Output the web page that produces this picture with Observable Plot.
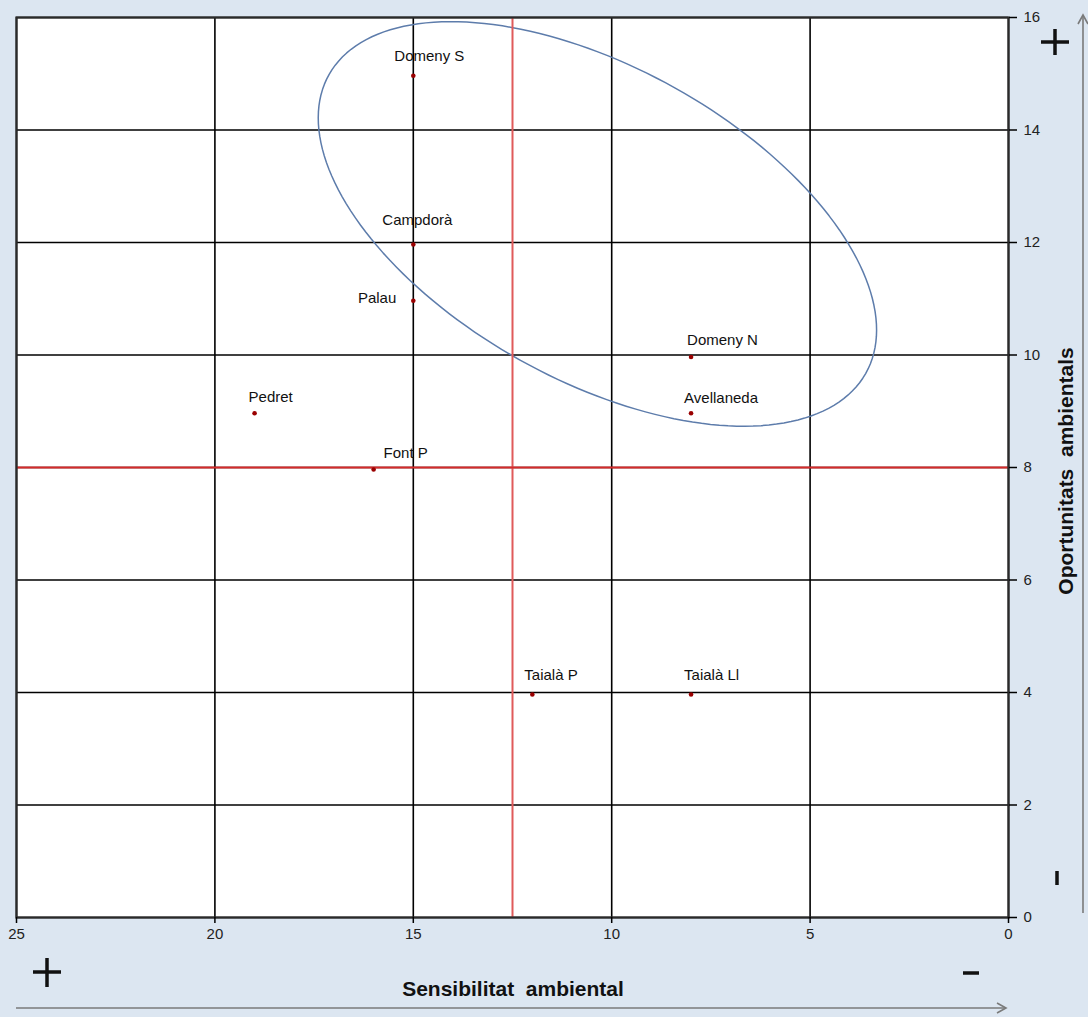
<!DOCTYPE html>
<html><head><meta charset="utf-8">
<script src="https://cdn.jsdelivr.net/npm/d3@7"></script>
<script src="https://cdn.jsdelivr.net/npm/@observablehq/plot@0.6"></script>
<style>
html,body{margin:0;padding:0;background:#dce6f1;}
#wrap{position:relative;width:1088px;height:1017px;overflow:hidden;background:#dce6f1;}
#wrap svg{position:absolute;left:0;top:0;}
</style></head><body><div id="wrap"></div>
<script>
// ---- data ----
const sites = ["Domeny S","Campdorà","Palau","Domeny N","Avellaneda","Pedret","Font P","Taialà P","Taialà Ll"];
const sensibilitat = [15,15,15,8,8,19,16,12,8];
const oportunitats = [15,12,11,10,9,9,8,4,4];
const xTicks = [25,20,15,10,5,0];
const yTicks = [0,2,4,6,8,10,12,14,16];
const thresholdX = [12.5];
const thresholdY = [8];
const ellipseCenter = [10.36, 12.33];
const ellipseAxisA = [-6.76, -2.66];
const ellipseAxisB = [1.95, -2.42];
const xTitle = "Sensibilitat  ambiental";
const yTitle = "Oportunitats  ambientals";

// label placement (styling, not data)
const labelPos = {
  "Domeny S":[-19,-18,"start"], "Campdorà":[-31,-22,"start"], "Palau":[-17,-1,"end"],
  "Domeny N":[-4,-15,"start"], "Avellaneda":[-7,-13,"start"], "Pedret":[-6,-14,"start"],
  "Font P":[10,-14,"start"], "Taialà P":[-8,-17,"start"], "Taialà Ll":[-7,-17,"start"]
};

const points = sites.map((s,i)=>({site:s, x:sensibilitat[i], y:oportunitats[i]}));
const ellipsePts = d3.range(0,360,2).map(d=>{
  const t=d*Math.PI/180;
  return {x: ellipseCenter[0]+ellipseAxisA[0]*Math.cos(t)+ellipseAxisB[0]*Math.sin(t),
          y: ellipseCenter[1]+ellipseAxisA[1]*Math.cos(t)+ellipseAxisB[1]*Math.sin(t)};
});

const font = "'Liberation Sans', Arial, sans-serif";
const labelMarks = points.map(p=>{
  const [dx,dy,anchor]=labelPos[p.site];
  return Plot.text([p],{x:"x",y:"y",text:"site",dx,dy,textAnchor:anchor,lineAnchor:"middle",
    fontSize:15,fill:"#111",letterSpacing:"-0.2px"});
});

const chart = Plot.plot({
  width:1088, height:1017,
  marginLeft:16, marginRight:80, marginTop:17, marginBottom:100,
  style:{background:"transparent", fontFamily:font, fontSize:"15px", color:"#222", overflow:"visible"},
  x:{domain:[25,0]},
  y:{domain:[0,16]},
  marks:[
    Plot.frame({fill:"white"}),
    Plot.gridX(xTicks,{stroke:"#000",strokeOpacity:1,strokeWidth:1.6}),
    Plot.gridY(yTicks,{stroke:"#000",strokeOpacity:1,strokeWidth:1.6}),
    Plot.line(ellipsePts,{x:"x",y:"y",curve:"linear-closed",stroke:"#5d7cab",strokeWidth:1.5}),
    Plot.ruleX(thresholdX,{stroke:"#e05a5a",strokeWidth:2}),
    Plot.ruleY(thresholdY,{stroke:"#d62a2a",strokeWidth:2.2}),
    Plot.frame({stroke:"#2a2a2a",strokeWidth:2.2}),
    Plot.axisX(xTicks,{anchor:"bottom",tickSize:6,tickPadding:5,label:null,tickFormat:d=>String(d),stroke:"#000",strokeWidth:1.5,fill:"#222"}),
    Plot.axisY(yTicks,{anchor:"right",tickSize:8,tickPadding:7,label:null,tickFormat:d=>String(d),stroke:"#000",strokeWidth:1.5,fill:"#222"}),
    Plot.dot(points,{x:"x",y:"y",r:2.3,dy:2,fill:"#9a0000"}),
    ...labelMarks
  ]
});
const wrap=document.getElementById("wrap");
wrap.appendChild(chart);

// overlay: axis titles, arrows and +/- markers
const ov=d3.select(wrap).append("svg").attr("width",1088).attr("height",1017)
  .style("font-family",font);
ov.append("text").attr("x",513).attr("y",990).attr("text-anchor","middle").attr("dominant-baseline","middle")
  .style("white-space","pre").attr("font-size",21).attr("font-weight","bold").attr("fill","#111").text(xTitle);
ov.append("text").attr("transform","translate(1067,471) rotate(-90)").attr("text-anchor","middle").attr("dominant-baseline","middle")
  .style("white-space","pre").attr("font-size",21).attr("font-weight","bold").attr("fill","#111").text(yTitle);
const g=ov.append("g").attr("stroke","#7a7a7a").attr("stroke-width",1.6).attr("fill","none");
g.append("line").attr("x1",16).attr("y1",1008).attr("x2",1006).attr("y2",1008);
g.append("polyline").attr("points","997,1003 1006,1008 997,1013");
g.append("line").attr("x1",1083).attr("y1",913).attr("x2",1083).attr("y2",15);
g.append("polyline").attr("points","1078,24 1083,15 1088,24");
const s=ov.append("g").attr("stroke","#111").attr("stroke-width",3.5);
s.append("line").attr("x1",1041).attr("y1",42).attr("x2",1069).attr("y2",42);
s.append("line").attr("x1",1055).attr("y1",29).attr("x2",1055).attr("y2",55);
s.append("line").attr("x1",33).attr("y1",972).attr("x2",61).attr("y2",972);
s.append("line").attr("x1",47).attr("y1",958).attr("x2",47).attr("y2",987);
s.append("line").attr("x1",963).attr("y1",973).attr("x2",979).attr("y2",973);
s.append("line").attr("x1",1057).attr("y1",871).attr("x2",1057).attr("y2",885);
</script></body></html>
